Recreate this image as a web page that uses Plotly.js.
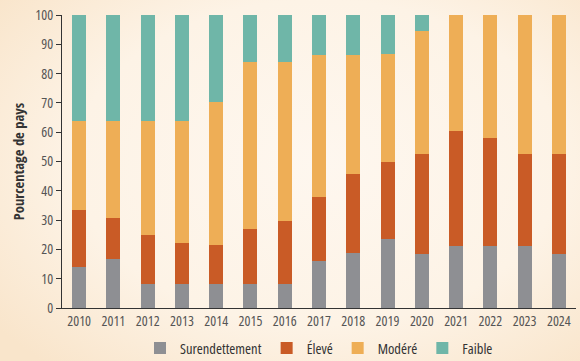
<!DOCTYPE html>
<html>
<head>
<meta charset="utf-8">
<script src="https://cdn.plot.ly/plotly-3.0.1.min.js"></script>
<style>
  html, body { margin: 0; padding: 0; }
  body {
    width: 580px; height: 361px; overflow: hidden;
    background: radial-gradient(ellipse 70% 75% at 55% 45%, #fef7ef 0%, #fdf3e6 60%, #f9e5cb 100%);
  }
  #chart { width: 580px; height: 361px; }
  text, tspan { font-stretch: condensed !important; }
  text.ytitle { font-family: 'Open Sans Condensed', 'Open Sans', sans-serif !important; font-weight: 700 !important; }
</style>
</head>
<body>
<div id="chart"></div>
<script>
const years = ["2010","2011","2012","2013","2014","2015","2016","2017","2018","2019","2020","2021","2022","2023","2024"];
const surendettement = [13.9,16.7,8.3,8.3,8.1,8.1,8.1,16.2,18.9,23.7,18.4,21.1,21.1,21.1,18.4];
const eleve = [19.4,13.9,16.7,13.9,13.5,18.9,21.6,21.6,27.0,26.3,34.2,39.4,36.8,31.5,34.2];
const modere = [30.6,33.3,38.9,41.7,48.7,56.8,54.1,48.7,40.6,36.8,42.1,39.5,42.1,47.4,47.4];
const faible = [36.1,36.1,36.1,36.1,29.7,16.2,16.2,13.5,13.5,13.2,5.3,0,0,0,0];
const seriesNames = ["Surendettement","Élevé","Modéré","Faible"];
const colors = ["#8e8f93","#c95b26","#eeae56","#6fb6a8"];

const FONT = "'Open Sans', sans-serif";
const FONT_B = "'Open Sans Condensed', 'Open Sans', sans-serif";
const series = [surendettement, eleve, modere, faible];
const traces = series.map((vals, i) => ({
  type: "bar",
  x: years,
  y: vals,
  name: seriesNames[i],
  marker: { color: colors[i], line: { width: 0 } },
  hoverinfo: "skip"
}));

const layout = {
  width: 580, height: 361,
  barmode: "stack",
  bargap: 0.59,
  paper_bgcolor: "rgba(0,0,0,0)",
  plot_bgcolor: "rgba(0,0,0,0)",
  margin: { l: 62, r: 4, t: 15, b: 53, autoexpand: false },
  font: { family: FONT, color: "#555555", size: 12 },
  xaxis: {
    type: "category",
    showline: true, linecolor: "#333333", linewidth: 1,
    ticks: "", showgrid: false, zeroline: false,
    tickfont: { family: FONT, size: 14, color: "#555555" },
    fixedrange: true
  },
  yaxis: {
    range: [0, 100],
    dtick: 10,
    showline: true, linecolor: "#333333", linewidth: 1,
    ticks: "outside", ticklen: 5, tickcolor: "#333333",
    showgrid: false, zeroline: false,
    tickfont: { family: FONT, size: 14, color: "#555555" },
    title: { text: "Pourcentage de pays", font: { family: FONT_B, size: 14.5, color: "#333333", weight: 700 }, standoff: 7 },
    fixedrange: true
  },
  showlegend: true,
  legend: {
    orientation: "h",
    x: 0.5, xanchor: "center",
    y: -0.137, yanchor: "middle",
    font: { family: FONT, size: 14.5, color: "#333333" },
    itemwidth: 30,
    traceorder: "normal",
    bgcolor: "rgba(0,0,0,0)"
  }
};

Plotly.newPlot("chart", traces, layout, { displayModeBar: false, staticPlot: true });
</script>
</body>
</html>
